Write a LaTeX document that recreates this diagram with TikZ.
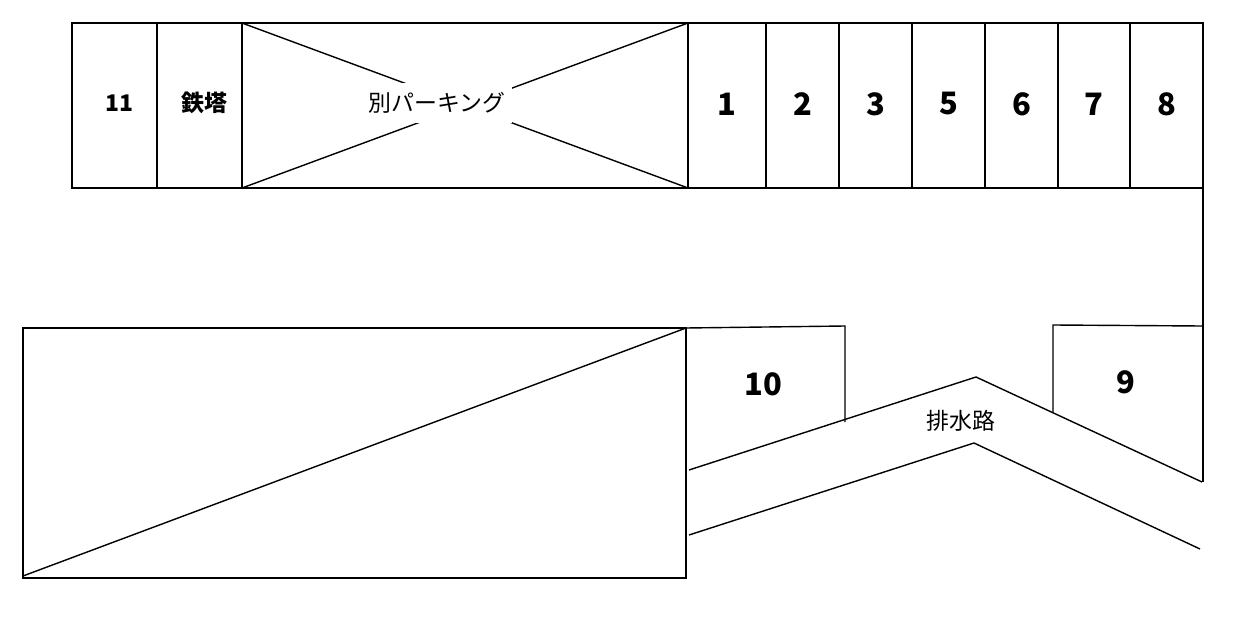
\documentclass[tikz,border=0pt]{standalone}
\usepackage{fontspec}
\setmainfont{Noto Sans CJK JP}
\usetikzlibrary{positioning, calc}

\begin{document}
\begin{tikzpicture}[x=1bp, y=-1bp,
    wall/.style={line width=1.4bp, black},
    num/.style={font=\bfseries\fontsize{31}{34}\selectfont},
    small num/.style={font=\bfseries\fontsize{23}{26}\selectfont},
    lbl/.style={font=\fontsize{23}{26}\selectfont, fill=white, inner sep=2pt}
]
    \useasboundingbox (0,0) rectangle (1233,617);

    % top row of slots
    \draw[wall] (72,23) rectangle (1203,188);
    \foreach \x in {157, 242, 688, 766, 839, 912, 985, 1058, 1130} {
        \draw[wall] (\x,23) -- (\x,188);
    }
    \draw[wall] (242,23) -- (688,188);
    \draw[wall] (242,188) -- (688,23);
    \node[lbl, minimum width=150bp, minimum height=40bp] (park) at (437,103) {別パーキング};

    \node[small num] (s11) at (119,103) {11};
    \node[small num] (tower) at (204,103) {鉄塔};
    \foreach \n/\x in {1/727, 2/803, 3/876, 5/949, 6/1022, 7/1094, 8/1167} {
        \node[num] (s\n) at (\x,104) {\n};
    }

    % right boundary
    \draw[wall] (1203,188) -- (1203,482);

    % lower left block
    \draw[wall] (23,328) rectangle (686,578);
    \draw[wall] (23,576) -- (686,328);

    % slots 10 and 9
    \draw[wall] (686,328) -- (845,326) -- (845,422);
    \draw[wall] (1053,412) -- (1053,325) -- (1202,326);
    \node[num] (s10) at (763,384) {10};
    \node[num] (s9) at (1126,382) {9};

    % drain
    \draw[wall] (689,470) -- (976,377) -- (1202,482);
    \draw[wall] (689,535) -- (974,443) -- (1200,549);
    \node[font=\fontsize{23}{26}\selectfont] (drain) at (961,421) {排水路};
\end{tikzpicture}
\end{document}
